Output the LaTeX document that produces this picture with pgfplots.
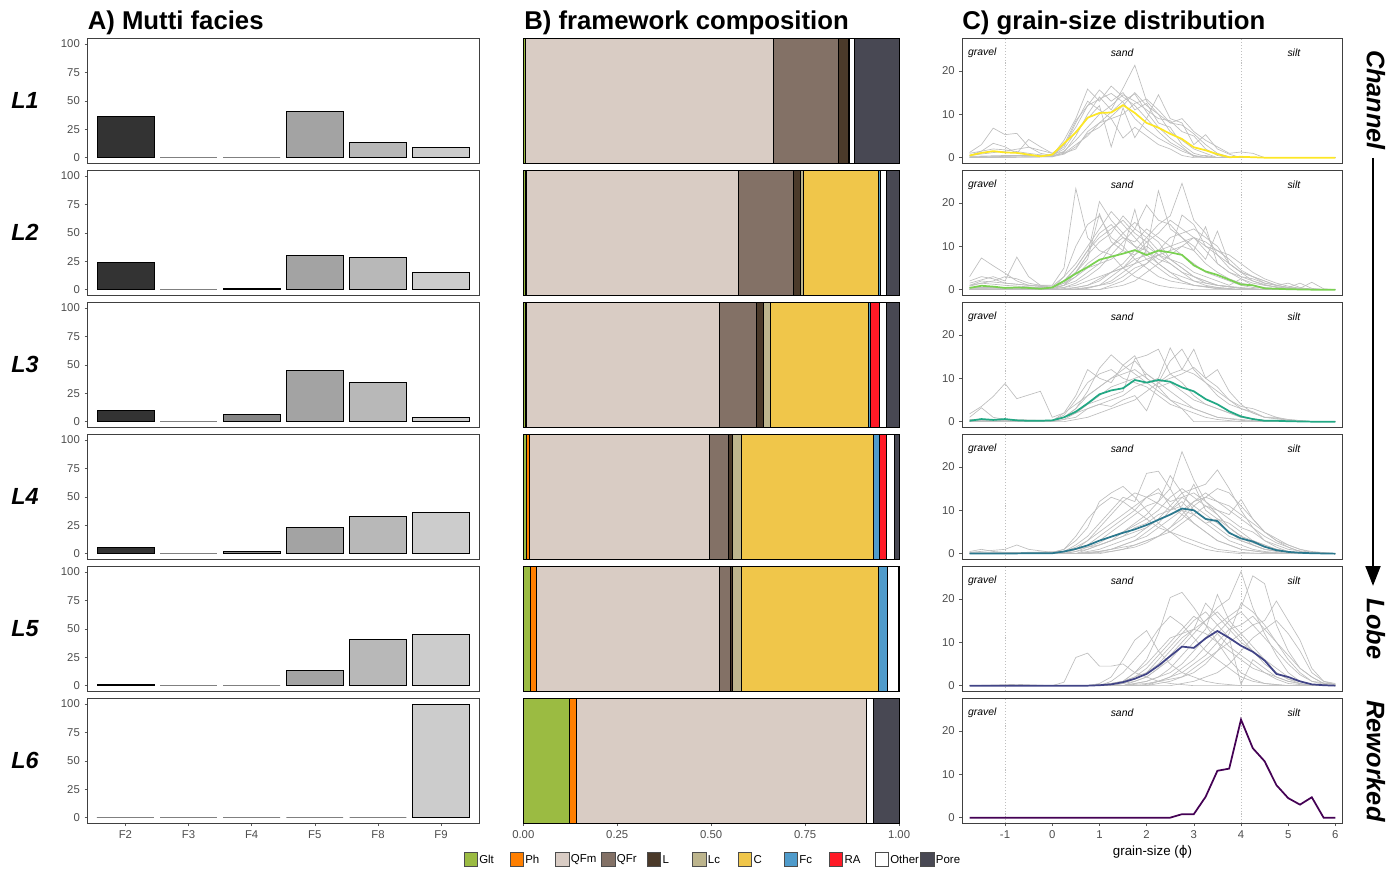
\documentclass[border=0pt]{standalone}
\usepackage{fontspec}
\setmainfont{Liberation Sans}
\newfontfamily\dejavu{DejaVu Sans}
\usepackage{pgfplots}
\pgfplotsset{compat=1.18}
\usetikzlibrary{arrows.meta}

\definecolor{cF2}{HTML}{333333}
\definecolor{cF3}{HTML}{5F5F5F}
\definecolor{cF4}{HTML}{858585}
\definecolor{cF5}{HTML}{A3A3A3}
\definecolor{cF8}{HTML}{B8B8B8}
\definecolor{cF9}{HTML}{CCCCCC}
\definecolor{cGlt}{HTML}{9BBB42}
\definecolor{cPh}{HTML}{FF7F00}
\definecolor{cQFm}{HTML}{D9CCC4}
\definecolor{cQFr}{HTML}{837166}
\definecolor{cL}{HTML}{4B3A2A}
\definecolor{cLc}{HTML}{BDB58D}
\definecolor{cC}{HTML}{F0C64A}
\definecolor{cFc}{HTML}{4F9BCB}
\definecolor{cRA}{HTML}{FF1A26}
\definecolor{cOther}{HTML}{FFFFFF}
\definecolor{cPore}{HTML}{484853}
\definecolor{gc}{HTML}{BEBEBE}
\definecolor{m1}{HTML}{FDE725}
\definecolor{m2}{HTML}{7AD151}
\definecolor{m3}{HTML}{22A884}
\definecolor{m4}{HTML}{2A788E}
\definecolor{m5}{HTML}{414487}
\definecolor{m6}{HTML}{440154}
\definecolor{tl}{HTML}{4D4D4D}

\pgfplotsset{
 base/.style={scale only axis, height=93.75pt, anchor=north west, tick align=outside,
   major tick length=2.2pt, every tick/.style={color=black!65, line width=0.4pt},
   axis line style={color=black!75, line width=0.6pt},
   tick label style={font=\fontsize{8.5}{10}\selectfont, text=tl},
   xtick pos=lower, ytick pos=left, /pgf/number format/assume math mode=true},
 pA/.style={base, width=293.6pt, xmin=0.4, xmax=6.6, ymin=-5, ymax=105,
   ytick={0,25,50,75,100}, yticklabels={0,25,50,75,100}, xtick=\empty},
 pAb/.style={xtick={1,2,3,4,5,6}, xticklabels={F2,F3,F4,F5,F8,F9}},
 pB/.style={base, width=281.8pt, xmin=0, xmax=1, ymin=0.5, ymax=1.5, xbar stacked,
   bar width=1, axis line style={draw=none}, ytick=\empty, xtick=\empty, clip=false},
 pBb/.style={xtick={0,0.25,0.5,0.75,1}, xticklabels={0.00,0.25,0.50,0.75,1.00}},
 pC/.style={base, width=285.3pt, xmin=-1.905, xmax=6.155, ymin=-1.3, ymax=27.5,
   ytick={0,10,20}, yticklabels={0,10,20}, xtick=\empty},
 pCb/.style={xtick={-1,0,1,2,3,4,5,6}, xticklabels={-1,0,1,2,3,4,5,6}},
 gcs/.style={color=gc, line width=0.5pt},
 vl/.style={color=black!25, line width=0.5pt, dash pattern=on 0.8pt off 1.4pt},
}
\newcommand\bA[3]{\addplot[ybar, bar width=0.9, fill=#3, draw=black, line width=0.4pt] coordinates {(#1,#2)};}
\newcommand\bZ[1]{\addplot[ybar, bar width=0.9, fill=white, draw=black!50, line width=1.2pt] coordinates {(#1,0)};}
\newcommand\bB[2]{\addplot[fill=#1, draw=black, line width=0.5pt] coordinates {(#2,1)};}
\newcommand\g[1]{\addplot[gcs] coordinates {#1};}
\newcommand\zones{%
 \addplot[vl] coordinates {(-1,-1.3) (-1,27.5)};
 \addplot[vl] coordinates {(4,-1.3) (4,27.5)};
 \node[font=\itshape\fontsize{7.8}{9}\selectfont] at (axis cs:-1.48,24.2) {gravel};
 \node[font=\itshape\fontsize{7.8}{9}\selectfont] at (axis cs:1.48,24.2) {sand};
 \node[font=\itshape\fontsize{7.8}{9}\selectfont] at (axis cs:5.12,24.2) {silt};}

\begin{document}
\begin{tikzpicture}
% ---------- titles ----------
\node[anchor=base west, font=\bfseries\fontsize{19.3}{22}\selectfont, inner sep=0pt] at (87.5*0.75pt,-29.3*0.75pt) {A) Mutti facies};
\node[anchor=base west, font=\bfseries\fontsize{19.3}{22}\selectfont, inner sep=0pt] at (524*0.75pt,-29.3*0.75pt) {B) framework composition};
\node[anchor=base west, font=\bfseries\fontsize{19.3}{22}\selectfont, inner sep=0pt] at (962*0.75pt,-29.3*0.75pt) {C) grain-size distribution};
% row labels
\foreach \i/\t in {0/L1,1/L2,2/L3,3/L4,4/L5,5/L6}{
  \node[font=\bfseries\itshape\fontsize{17.5}{20}\selectfont] at (25*0.75pt,{-(100.8+132*\i)*0.75pt}) {\t};
}

% ================= Panel A =================
\begin{axis}[pA, at={(87.5*0.75pt,-38.3*0.75pt)}]
\bA{1}{36.2}{cF2} \bZ{2} \bZ{3} \bA{4}{40.9}{cF5} \bA{5}{13.1}{cF8} \bA{6}{9.0}{cF9}
\end{axis}
\begin{axis}[pA, at={(87.5*0.75pt,-170.3*0.75pt)}]
\bA{1}{23.7}{cF2} \bZ{2} \bA{3}{1.0}{cF4} \bA{4}{30.4}{cF5} \bA{5}{28.4}{cF8} \bA{6}{15.5}{cF9}
\end{axis}
\begin{axis}[pA, at={(87.5*0.75pt,-302.3*0.75pt)}]
\bA{1}{10.3}{cF2} \bZ{2} \bA{3}{6.8}{cF4} \bA{4}{45.0}{cF5} \bA{5}{34.5}{cF8} \bA{6}{3.5}{cF9}
\end{axis}
\begin{axis}[pA, at={(87.5*0.75pt,-434.3*0.75pt)}]
\bA{1}{5.9}{cF2} \bZ{2} \bA{3}{1.8}{cF4} \bA{4}{23.2}{cF5} \bA{5}{32.5}{cF8} \bA{6}{36.6}{cF9}
\end{axis}
\begin{axis}[pA, at={(87.5*0.75pt,-566.3*0.75pt)}]
\bA{1}{1.5}{cF2} \bZ{2} \bZ{3} \bA{4}{13.2}{cF5} \bA{5}{40.4}{cF8} \bA{6}{45.2}{cF9}
\end{axis}
\begin{axis}[pA, pAb, at={(87.5*0.75pt,-698.3*0.75pt)}]
\bZ{1} \bZ{2} \bZ{3} \bZ{4} \bZ{5} \bA{6}{100}{cF9}
\end{axis}

% ================= Panel B =================
% order: Glt Ph QFm QFr L Lc C Fc RA Other Pore
\begin{axis}[pB, at={(523.3*0.75pt,-38.3*0.75pt)}]
\bB{cGlt}{0.005}\bB{cPh}{0}\bB{cQFm}{0.660}\bB{cQFr}{0.173}\bB{cL}{0.026}\bB{cLc}{0.003}\bB{cC}{0}\bB{cFc}{0}\bB{cRA}{0}\bB{cOther}{0.013}\bB{cPore}{0.120}
\end{axis}
\begin{axis}[pB, at={(523.3*0.75pt,-170.3*0.75pt)}]
\bB{cGlt}{0.005}\bB{cPh}{0.004}\bB{cQFm}{0.563}\bB{cQFr}{0.146}\bB{cL}{0.018}\bB{cLc}{0.010}\bB{cC}{0.198}\bB{cFc}{0.005}\bB{cRA}{0}\bB{cOther}{0.016}\bB{cPore}{0.035}
\end{axis}
\begin{axis}[pB, at={(523.3*0.75pt,-302.3*0.75pt)}]
\bB{cGlt}{0.006}\bB{cPh}{0.001}\bB{cQFm}{0.514}\bB{cQFr}{0.099}\bB{cL}{0.019}\bB{cLc}{0.018}\bB{cC}{0.261}\bB{cFc}{0.006}\bB{cRA}{0.023}\bB{cOther}{0.018}\bB{cPore}{0.035}
\end{axis}
\begin{axis}[pB, at={(523.3*0.75pt,-434.3*0.75pt)}]
\bB{cGlt}{0.007}\bB{cPh}{0.010}\bB{cQFm}{0.479}\bB{cQFr}{0.050}\bB{cL}{0.010}\bB{cLc}{0.025}\bB{cC}{0.351}\bB{cFc}{0.016}\bB{cRA}{0.019}\bB{cOther}{0.021}\bB{cPore}{0.012}
\end{axis}
\begin{axis}[pB, at={(523.3*0.75pt,-566.3*0.75pt)}]
\bB{cGlt}{0.019}\bB{cPh}{0.016}\bB{cQFm}{0.488}\bB{cQFr}{0.027}\bB{cL}{0.006}\bB{cLc}{0.023}\bB{cC}{0.367}\bB{cFc}{0.023}\bB{cRA}{0}\bB{cOther}{0.028}\bB{cPore}{0.003}
\end{axis}
\begin{axis}[pB, pBb, at={(523.3*0.75pt,-698.3*0.75pt)}]
\bB{cGlt}{0.122}\bB{cPh}{0.018}\bB{cQFm}{0.774}\bB{cQFr}{0}\bB{cL}{0}\bB{cLc}{0}\bB{cC}{0}\bB{cFc}{0}\bB{cRA}{0}\bB{cOther}{0.018}\bB{cPore}{0.068}
\end{axis}

% ================= Panel C =================
\begin{axis}[pC, at={(962.3*0.75pt,-38.3*0.75pt)}]
\zones
\g{(-1.75,1.2)(-1.5,3)(-1.25,6.8)(-1,5.3)(-0.75,5.6)(-0.5,2.5)(-0.25,1)(0,0.5)(0.25,4)(0.5,9)(0.75,15.8)(1,13)(1.25,16.5)(1.5,14)(1.75,12)(2,9)(2.25,6)(2.5,3.5)(2.75,2)(3,0.5)(3.25,0)(6,0)}
\g{(-1.75,0.5)(-1.5,1.5)(-1.25,3.3)(-1,2.5)(-0.75,1)(-0.5,4.2)(-0.25,2.5)(0,1)(0.25,1.2)(0.5,5)(0.75,10)(1,14)(1.25,11)(1.5,16)(1.75,21.3)(2,13)(2.25,10)(2.5,6)(2.75,4)(3,2)(3.25,1)(3.5,0)(6,0)}
\g{(-1.75,0)(-0.5,0.5)(0,0.5)(0.25,2)(0.5,6)(0.75,9)(1,12)(1.25,2.5)(1.5,11.5)(1.75,4.6)(2,9)(2.25,14.5)(2.5,9)(2.75,8)(3,3)(3.25,5.3)(3.5,2)(3.75,0.8)(4,0)(6,0)}
\g{(-1.75,1)(-1.25,2)(-1,1.8)(-0.5,1)(0,0.3)(0.25,3)(0.5,7)(0.75,12)(1,15.6)(1.25,13)(1.5,15)(1.75,11)(2,12.5)(2.25,8)(2.5,7)(2.75,3)(3,1)(3.25,0.3)(3.5,0)(6,0)}
\g{(-1.75,0)(0,0.2)(0.25,1.5)(0.5,4)(0.75,7)(1,10)(1.25,12)(1.5,14.5)(1.75,13)(2,11)(2.25,9)(2.5,8.5)(2.75,6)(3,5)(3.25,2)(3.5,0.5)(3.75,0)(6,0)}
\g{(-1.75,0.3)(-1,0.5)(0,0.5)(0.25,1)(0.5,3)(0.75,5)(1,8)(1.25,10.5)(1.5,13)(1.75,14.7)(2,10.5)(2.25,7)(2.5,4.5)(2.75,2.5)(3,0.2)(3.25,0.5)(3.5,0)(6,0)}
\g{(-1.75,0.2)(0,0.6)(0.25,2.5)(0.5,8)(0.75,13)(1,11)(1.25,9)(1.5,4.5)(1.75,7)(2,5)(2.25,3)(2.5,2)(2.75,0.5)(3,0)(6,0)}
\g{(-1.75,0)(0,0.3)(0.25,1)(0.5,2)(0.75,6)(1,8)(1.25,9)(1.5,10)(1.75,12.5)(2,13.5)(2.25,11)(2.5,8)(2.75,9)(3,6)(3.25,4)(3.5,2.5)(3.75,1)(4,1.3)(4.25,1)(4.5,0)(6,0)}
\g{(-1.75,0)(0,0.2)(0.25,0.8)(0.5,2.5)(0.75,5.5)(1,7)(1.25,9.5)(1.5,12)(1.75,15)(2,12)(2.25,10)(2.5,8)(2.75,7.5)(3,5.5)(3.25,3)(3.5,1)(3.75,0.2)(4,0)(6,0)}
\g{(-1.75,0.5)(-1,1.5)(-0.5,2.4)(0,1)(0.25,3)(0.5,8.5)(0.75,12)(1,13.5)(1.25,14.8)(1.5,12.8)(1.75,9)(2,6.5)(2.25,4.5)(2.5,3)(2.75,1.5)(3,0.5)(3.25,0)(6,0)}
\addplot[m1, line width=1.3pt] coordinates {(-1.75,0.5)(-1.5,1.1)(-1.25,1.5)(-1,1.2)(-0.75,1.1)(-0.5,0.7)(-0.25,0.3)(0,0.7)(0.25,3.3)(0.5,5.8)(0.75,9.2)(1,10.3)(1.25,10.4)(1.5,12.1)(1.75,10.3)(2,8.0)(2.25,6.9)(2.5,5.5)(2.75,4.3)(3,2.4)(3.25,1.7)(3.5,0.8)(3.75,0.1)(4,0.2)(4.25,0.1)(4.5,0)(6,0)};
\end{axis}

\begin{axis}[pC, at={(962.3*0.75pt,-170.3*0.75pt)}]
\zones
\g{(-1.75,3)(-1.5,7.3)(-1.25,5.5)(-1,3.8)(-0.75,2)(-0.5,1)(0,1)(0.25,5)(0.5,23.3)(0.75,12)(1,9)(1.25,8)(1.5,5)(1.75,3)(2,2)(2.25,1)(2.5,0.5)(3,0)(6,0)}
\g{(-1.75,1.5)(-1.25,3)(-1,2)(-0.75,7.5)(-0.5,3)(-0.25,1)(0,0.8)(0.25,3)(0.5,6)(0.75,10)(1,14)(1.25,18)(1.5,15)(1.75,12)(2,9)(2.25,6)(2.5,4)(2.75,2)(3,1)(3.5,0.3)(4,0)(6,0)}
\g{(-1.75,0.5)(0,0.2)(0.25,1)(0.5,4)(0.75,8)(1,20.3)(1.25,16)(1.5,13)(1.75,10)(2,7)(2.25,5)(2.5,3)(2.75,2)(3,1)(3.5,0.2)(4,0)(6,0)}
\g{(-1.75,0.5)(0,0.3)(0.25,0.5)(0.5,1.5)(0.75,3)(1,5)(1.25,8)(1.5,11)(1.75,14)(2,19.5)(2.25,16)(2.5,15)(2.75,12)(3,9)(3.25,6)(3.5,4)(3.75,2.5)(4,1.5)(4.25,1)(4.5,0.5)(5,0)(6,0)}
\g{(-1.75,0)(0,0)(0.5,0.5)(0.75,1)(1,2)(1.25,4)(1.5,6)(1.75,9)(2,12)(2.25,15)(2.5,17)(2.75,24.5)(3,16)(3.25,13)(3.5,8)(3.75,5)(4,3)(4.25,2)(4.5,1)(5,0.3)(5.5,0)(6,0)}
\g{(-1.75,0)(0,0)(0.5,0.2)(0.75,0.5)(1,1)(1.25,2)(1.5,4)(1.75,6)(2,9)(2.25,22.8)(2.5,14)(2.75,12)(3,10)(3.25,7)(3.5,13.5)(3.75,6)(4,4)(4.25,2)(4.5,1.2)(4.75,0.5)(5,0.2)(5.5,0)(6,0)}
\g{(-1.75,1)(-1.5,2)(-1,1.5)(-0.5,1)(0,0.5)(0.25,2)(0.5,5)(0.75,9)(1,12)(1.25,14)(1.5,16)(1.75,13)(2,11)(2.25,8)(2.5,6)(2.75,4)(3,3)(3.25,2)(3.5,1)(4,0.3)(4.5,0)(6,0)}
\g{(-1.75,0.3)(0,0.5)(0.25,1.5)(0.5,3)(0.75,6)(1,8)(1.25,10)(1.5,12)(1.75,11)(2,14)(2.25,12)(2.5,10)(2.75,8)(3,6)(3.25,4)(3.5,3)(3.75,2)(4,1)(4.25,0.5)(5,0)(6,0)}
\g{(-1.75,0)(0.25,0)(0.5,0.5)(0.75,1)(1,2.5)(1.25,4)(1.5,5)(1.75,7)(2,8)(2.25,9)(2.5,10)(2.75,11)(3,12)(3.25,10)(3.5,8)(3.75,6)(4,4)(4.25,3)(4.5,2)(4.75,1)(5,0.5)(5.25,1.5)(5.5,0.3)(5.75,0)(6,0)}
\g{(-1.75,0.8)(-1.5,1.5)(-1,1)(0,0.3)(0.25,2)(0.5,4)(0.75,7)(1,17.5)(1.25,11)(1.5,9)(1.75,18.5)(2,8)(2.25,6)(2.5,4)(2.75,3)(3,2)(3.25,1)(3.5,0.5)(4,0)(6,0)}
\g{(-1.75,0)(0.5,0)(0.75,0.3)(1,1)(1.25,1.5)(1.5,3)(1.75,5)(2,6)(2.25,8)(2.5,9)(2.75,17.2)(3,15)(3.25,10)(3.5,9)(3.75,8)(4,6)(4.25,4)(4.5,2.5)(4.75,1.5)(5,0.8)(5.25,0.3)(5.5,1.7)(5.75,0.2)(6,0)}
\g{(-1.75,0.5)(0,0.2)(0.25,1)(0.5,3)(0.75,5)(1,6)(1.25,7)(1.5,9)(1.75,8)(2,10)(2.25,8)(2.5,7)(2.75,6)(3,4)(3.25,3)(3.5,2)(3.75,1)(4,2.5)(4.25,1)(4.5,0.3)(5,0)(6,0)}
\g{(-1.75,1)(-1.25,2)(-1,3)(-0.75,2.5)(-0.5,1.5)(0,0.5)(0.25,1)(0.5,2)(0.75,4)(1,6)(1.25,10)(1.5,13)(1.75,15.5)(2,13)(2.25,11)(2.5,7)(2.75,5)(3,3)(3.25,1.5)(3.5,1)(4,0.3)(4.5,0)(6,0)}
\g{(-1.75,0)(0,0.1)(0.25,0.5)(0.5,1)(0.75,2)(1,3)(1.25,4)(1.5,5)(1.75,6)(2,7)(2.25,8)(2.5,9)(2.75,10)(3,9)(3.25,14.5)(3.5,6)(3.75,4)(4,3)(4.25,2.5)(4.5,1.5)(4.75,1)(5,0.5)(5.5,0.2)(6,0)}
\g{(-1.75,0.3)(0,0.3)(0.25,3)(0.5,10)(0.75,15)(1,17)(1.25,12)(1.5,10)(1.75,7)(2,5)(2.25,3)(2.5,2)(2.75,1.5)(3,1)(3.5,0.5)(4,0)(6,0)}
\g{(-1.75,0)(1,0)(1.25,0.5)(1.5,1)(1.75,2)(2,4)(2.25,6)(2.5,8)(2.75,10)(3,12)(3.25,11)(3.5,9)(3.75,7)(4,4.5)(4.25,3)(4.5,2)(4.75,1)(5,0.5)(5.5,0)(6,0)}
\g{(-1.75,2)(-1.5,3)(-1.25,2.5)(-1,1.5)(-0.5,1)(0,0.5)(0.25,1.5)(0.5,4)(0.75,8)(1,11)(1.25,13)(1.5,17)(1.75,14)(2,12)(2.25,9)(2.5,7)(2.75,5)(3,3)(3.25,2)(3.5,1)(4,0.3)(4.5,0)(6,0)}
\g{(-1.75,0)(0.5,0)(0.75,0.5)(1,1)(1.25,3)(1.5,5)(1.75,8)(2,11)(2.25,13)(2.5,16)(2.75,14)(3,12)(3.25,9)(3.5,6)(3.75,4)(4,2.5)(4.25,1.5)(4.5,1)(5,0.3)(5.5,0)(6,0)}
\g{(-1.75,0.5)(0,0.5)(0.25,2)(0.5,5)(0.75,9)(1,13)(1.25,15)(1.5,12)(1.75,10)(2,9)(2.25,7)(2.5,6)(2.75,4)(3,2)(3.5,1)(4,0.5)(4.5,0)(6,0)}
\g{(-1.75,0)(1,0)(1.25,1)(1.5,2)(1.75,4)(2,6)(2.25,9)(2.5,12)(2.75,13)(3,14)(3.25,12)(3.5,10)(3.75,6)(4,4)(4.25,3)(4.5,1.5)(4.75,1)(5,1.5)(5.25,0.5)(5.5,0)(6,0)}
\addplot[m2, line width=1.3pt] coordinates {(-1.75,0.4)(-1.5,0.9)(-1.25,0.7)(-1,0.4)(-0.75,0.5)(-0.5,0.4)(-0.25,0.2)(0,0.5)(0.25,2.0)(0.5,3.7)(0.75,5.2)(1,6.9)(1.25,7.6)(1.5,8.3)(1.75,9.1)(2,8.0)(2.25,9.0)(2.5,8.6)(2.75,8.0)(3,5.6)(3.25,4.2)(3.5,3.4)(3.75,2.3)(4,1.2)(4.25,1.0)(4.5,0.3)(4.75,0.2)(5,0.1)(5.5,0)(6,0)};
\end{axis}

\begin{axis}[pC, at={(962.3*0.75pt,-302.3*0.75pt)}]
\zones
\g{(-1.75,1.8)(-1.5,3.5)(-1.25,5.8)(-1,8.8)(-0.75,5.3)(-0.25,7)(0,1)(0.25,2)(0.5,4)(0.75,6)(1,8)(1.25,10)(1.5,12)(1.75,14)(2,11)(2.25,9)(2.5,7)(2.75,5)(3,3)(3.25,2)(3.5,1)(4,0.3)(4.5,0)(6,0)}
\g{(-1.75,1)(-1.5,3.2)(-1.25,1)(-1,0.5)(0,0.2)(0.25,1)(0.5,3)(0.75,7)(1,12.3)(1.25,15.4)(1.5,13)(1.75,15.2)(2,10)(2.25,8)(2.5,5)(2.75,3)(3,2)(3.25,1)(3.5,0.5)(4,0)(6,0)}
\g{(-1.75,0)(0,0.2)(0.25,1)(0.5,2)(0.75,4)(1,5)(1.25,6)(1.5,7)(1.75,14.5)(2,15.3)(2.25,16.7)(2.5,11)(2.75,9)(3,6)(3.25,4)(3.5,3)(3.75,2)(4,1)(4.5,0.3)(5,0)(6,0)}
\g{(-1.75,0)(0,0.1)(0.25,0.5)(0.5,1)(0.75,3)(1,4)(1.25,5)(1.5,6)(1.75,8)(2,9)(2.25,10)(2.5,17)(2.75,12)(3,16.7)(3.25,10)(3.5,8)(3.75,5)(4,3)(4.25,2)(4.5,1)(5,0.3)(5.5,0)(6,0)}
\g{(-1.75,0.3)(0,0.3)(0.25,1.5)(0.5,5)(0.75,9)(1,11)(1.25,12)(1.5,10)(1.75,9)(2,8)(2.25,6)(2.5,4)(2.75,3)(3,0)(6,0)}
\g{(-1.75,0)(0,0)(0.25,0.5)(0.5,2)(0.75,4)(1,6)(1.25,8)(1.5,9)(1.75,10)(2,11)(2.25,9)(2.5,10)(2.75,11)(3,12.5)(3.25,10)(3.5,12)(3.75,7)(4,4)(4.25,2)(4.5,1)(5,0.5)(5.5,0)(6,0)}
\g{(-1.75,0)(0,0.2)(0.25,1)(0.5,2)(0.75,3)(1,4)(1.25,3.5)(1.5,5)(1.75,6)(2,2.5)(2.25,9)(2.5,14)(2.75,16.7)(3,12)(3.25,9)(3.5,6)(3.75,4)(4,3)(4.25,2.3)(4.5,1)(4.75,1)(5,0.2)(5.5,0)(6,0)}
\g{(-1.75,0.5)(0,0.3)(0.25,1)(0.5,3)(0.75,6)(1,8)(1.25,10)(1.5,11)(1.75,12)(2,10)(2.25,8)(2.5,9)(2.75,7)(3,5)(3.25,4)(3.5,3)(3.75,2)(4,1)(4.5,0.3)(5,0)(6,0)}
\g{(-1.75,0)(0.25,0)(0.5,0.5)(0.75,1)(1,2)(1.25,3)(1.5,4)(1.75,5)(2,7)(2.25,9)(2.5,11)(2.75,12)(3,11)(3.25,9)(3.5,7)(3.75,5)(4,3.5)(4.25,3)(4.5,2)(4.75,1)(5,0.5)(5.5,0)(6,0)}
\g{(-1.75,0.2)(0,0.2)(0.25,2)(0.5,6)(0.75,12)(1,10)(1.25,9)(1.5,13)(1.75,11)(2,9)(2.25,7)(2.5,5)(2.75,4)(3,3)(3.25,2)(3.5,1)(4,0.5)(4.5,0)(6,0)}
\addplot[m3, line width=1.3pt] coordinates {(-1.75,0.2)(-1.5,0.6)(-1.25,0.4)(-1,0.6)(-0.75,0.3)(-0.5,0.2)(-0.25,0.2)(0,0.3)(0.25,1.0)(0.5,2.3)(0.75,4.2)(1,6.3)(1.25,7.2)(1.5,7.7)(1.75,9.6)(2,9.0)(2.25,9.6)(2.5,9.2)(2.75,7.9)(3,7.0)(3.25,5.2)(3.5,4.0)(3.75,2.4)(4,1.2)(4.25,0.6)(4.5,0.2)(4.75,0.2)(5,0.1)(5.5,0)(6,0)};
\end{axis}

\begin{axis}[pC, at={(962.3*0.75pt,-434.3*0.75pt)}]
\zones
\g{(-1.75,0.5)(-1.5,1)(-1.25,0.5)(-1,0.3)(0,0.2)(0.25,1)(0.5,3)(0.75,6)(1,12)(1.25,14)(1.5,15.5)(1.75,13)(2,10)(2.25,7)(2.5,5)(2.75,3)(3,2)(3.25,1)(3.5,0.5)(4,0)(6,0)}
\g{(-1.75,0.3)(-1,1)(-0.75,2)(-0.5,1)(0,0.3)(0.25,0.5)(0.5,2)(0.75,4)(1,7)(1.25,10)(1.5,13)(1.75,12)(2,18.5)(2.25,19)(2.5,15)(2.75,10)(3,7)(3.25,5)(3.5,3)(3.75,2)(4,1)(4.5,0.3)(5,0)(6,0)}
\g{(-1.75,0)(0.25,0)(0.5,0.5)(0.75,1)(1,2)(1.25,3)(1.5,5)(1.75,7)(2,9)(2.25,12)(2.5,15)(2.75,23.5)(3,17)(3.25,12)(3.5,9)(3.75,6)(4,4)(4.25,2)(4.5,1)(5,0.3)(5.5,0)(6,0)}
\g{(-1.75,0)(0.5,0)(0.75,0.5)(1,1)(1.25,2)(1.5,3)(1.75,4)(2,6)(2.25,8)(2.5,11)(2.75,14)(3,15)(3.25,16)(3.5,19.3)(3.75,15)(4,10)(4.25,6)(4.5,3)(4.75,1.5)(5,0.5)(5.5,0)(6,0)}
\g{(-1.75,0)(0.25,0.3)(0.5,1)(0.75,2)(1,4)(1.25,6)(1.5,8)(1.75,10)(2,13)(2.25,14)(2.5,12)(2.75,13)(3,11)(3.25,9)(3.5,7)(3.75,5)(4,3)(4.25,2)(4.5,1)(5,0.3)(5.5,0)(6,0)}
\g{(-1.75,0)(0.75,0)(1,0.5)(1.25,1)(1.5,2)(1.75,3)(2,5)(2.25,7)(2.5,10)(2.75,13)(3,14)(3.25,12)(3.5,10)(3.75,9)(4,12.5)(4.25,8)(4.5,5)(4.75,3)(5,1.5)(5.25,0.5)(5.5,0)(6,0)}
\g{(-1.75,0.2)(0,0.2)(0.25,0.5)(0.5,1)(0.75,2)(1,3)(1.25,5)(1.5,7)(1.75,9)(2,11)(2.25,12)(2.5,18)(2.75,14)(3,10)(3.25,8)(3.5,6)(3.75,4)(4,3)(4.25,2)(4.5,1)(5,0)(6,0)}
\g{(-1.75,0)(0.5,0)(0.75,0.3)(1,0.5)(1.25,1)(1.5,1.5)(1.75,2)(2,3)(2.25,4)(2.5,6)(2.75,8)(3,11)(3.25,13)(3.5,15)(3.75,14)(4,11)(4.25,8)(4.5,5)(4.75,3)(5,2)(5.25,1)(5.5,0.3)(6,0)}
\g{(-1.75,0)(0,0.3)(0.25,1)(0.5,4)(0.75,8)(1,11)(1.25,13)(1.5,12)(1.75,10)(2,8)(2.25,6)(2.5,5)(2.75,4)(3,3)(3.25,2)(3.5,1)(4,0.3)(4.5,0)(6,0)}
\g{(-1.75,0)(0.5,0)(1,0.5)(1.25,1)(1.5,2)(1.75,3)(2,4)(2.25,6)(2.5,8)(2.75,10)(3,12)(3.25,13)(3.5,12)(3.75,10)(4,8)(4.25,6)(4.5,4)(4.75,2.5)(5,1.5)(5.25,0.5)(5.5,0)(6,0)}
\g{(-1.75,0)(0.25,0.5)(0.5,1.5)(0.75,3)(1,5)(1.25,7)(1.5,9)(1.75,11)(2,13)(2.25,11.5)(2.5,10)(2.75,12)(3,9)(3.25,7)(3.5,5)(3.75,3)(4,2)(4.25,1)(4.5,0.5)(5,0)(6,0)}
\g{(-1.75,0)(0.75,0)(1,0.3)(1.25,0.5)(1.5,1)(1.75,2)(2,3)(2.25,4)(2.5,5)(2.75,7)(3,9)(3.25,11)(3.5,10)(3.75,8)(4,6)(4.25,5)(4.5,3)(4.75,2)(5,1)(5.5,0.3)(6,0)}
\g{(-1.75,0)(0.5,0)(0.75,1)(1,2)(1.25,3)(1.5,4)(1.75,6)(2,7)(2.25,9)(2.5,10)(2.75,11)(3,16)(3.25,10)(3.5,8)(3.75,7)(4,5)(4.25,3)(4.5,2)(4.75,1)(5,0.5)(5.5,0)(6,0)}
\g{(-1.75,0)(0,0)(0.25,0.3)(0.5,1)(0.75,1.5)(1,2)(1.25,3)(1.5,4)(1.75,5)(2,6)(2.25,8)(2.5,9)(2.75,10)(3,9)(3.25,7)(3.5,8)(3.75,6)(4,4)(4.25,3)(4.5,2)(4.75,1)(5,0.3)(6,0)}
\g{(-1.75,0)(0.25,0)(0.5,1)(0.75,3)(1,6)(1.25,9)(1.5,12)(1.75,14)(2,13)(2.25,15)(2.5,11)(2.75,9)(3,7)(3.25,5)(3.5,3)(3.75,2)(4,1)(4.5,0.3)(5,0)(6,0)}
\g{(-1.75,0)(1,0)(1.25,0.5)(1.5,1)(1.75,1.5)(2,2.5)(2.25,4)(2.5,6)(2.75,9)(3,12)(3.25,14)(3.5,12)(3.75,11)(4,9)(4.25,7)(4.5,5)(4.75,3.5)(5,2)(5.25,1)(5.5,0.5)(6,0)}
\g{(-1.75,0)(0.25,0)(0.5,0.5)(0.75,1.5)(1,2.5)(1.25,4)(1.5,5)(1.75,6.5)(2,8)(2.25,10)(2.5,13)(2.75,15)(3,13)(3.25,11)(3.5,9)(3.75,6)(4,4)(4.25,2.5)(4.5,1.5)(5,0.5)(5.5,0)(6,0)}
\addplot[m4, line width=1.3pt] coordinates {(-1.75,0.05)(-1,0.05)(0,0.1)(0.25,0.5)(0.5,1.1)(0.75,1.9)(1,3.0)(1.25,3.9)(1.5,4.8)(1.75,5.6)(2,6.6)(2.25,7.8)(2.5,9.0)(2.75,10.4)(3,10.0)(3.25,8.0)(3.5,7.5)(3.75,4.8)(4,3.5)(4.25,2.8)(4.5,1.6)(4.75,0.8)(5,0.4)(5.25,0.2)(5.5,0.1)(6,0)};
\end{axis}

\begin{axis}[pC, at={(962.3*0.75pt,-566.3*0.75pt)}]
\zones
\g{(-1.75,0)(0,0)(0.25,0.8)(0.5,6.5)(0.75,7.5)(1,4.5)(1.25,4.5)(1.5,5)(1.75,3)(2,2)(2.25,1)(2.5,0.5)(3,0)(6,0)}
\g{(-1.75,0)(0.75,0)(1,0.5)(1.25,2)(1.5,6)(1.75,10.5)(2,12.7)(2.25,8)(2.5,5)(2.75,3)(3,2)(3.25,1)(3.5,0.5)(4,0)(6,0)}
\g{(-1.75,0)(1,0)(1.25,0.5)(1.5,1)(1.75,3)(2,6)(2.25,12)(2.5,20.3)(2.75,21.5)(3,18)(3.25,14)(3.5,10)(3.75,6)(4,3)(4.25,1.5)(4.5,0.5)(5,0)(6,0)}
\g{(-1.75,0)(1.25,0)(1.5,0.5)(1.75,1)(2,2)(2.25,4)(2.5,6)(2.75,9)(3,12)(3.25,15)(3.5,18)(3.75,20)(4,26.3)(4.25,18)(4.5,12)(4.75,7)(5,3)(5.25,1)(5.5,0.3)(6,0)}
\g{(-1.75,0)(1.5,0)(1.75,0.5)(2,1)(2.25,2)(2.5,3)(2.75,5)(3,8)(3.25,11)(3.5,14)(3.75,16)(4,18)(4.25,25.3)(4.5,23.5)(4.75,14)(5,8)(5.25,4)(5.5,2)(5.75,0.5)(6,0.3)}
\g{(-1.75,0)(1.5,0)(1.75,0.3)(2,0.5)(2.25,1)(2.5,1.5)(2.75,2)(3,4)(3.25,6)(3.5,8)(3.75,10)(4,12)(4.25,14)(4.5,15)(4.75,19.5)(5,15)(5.25,10.5)(5.5,4)(5.75,1)(6,0.2)}
\g{(-1.75,0)(1,0)(1.25,1)(1.5,3)(1.75,6)(2,9)(2.25,13)(2.5,16)(2.75,14)(3,11)(3.25,8)(3.5,6)(3.75,4)(4,2)(4.25,1)(4.5,0.5)(5,0)(6,0)}
\g{(-1.75,0)(1.5,0)(1.75,0.5)(2,1)(2.25,2)(2.5,4)(2.75,7)(3,10)(3.25,13)(3.5,21)(3.75,15)(4,12)(4.25,9)(4.5,6)(4.75,3)(5,1.5)(5.25,0.5)(5.5,0)(6,0)}
\g{(-1.75,0)(2,0)(2.25,0.5)(2.5,1)(2.75,2)(3,3)(3.25,5)(3.5,8)(3.75,12)(4,19)(4.25,17)(4.5,14)(4.75,10)(5,6)(5.25,3)(5.5,1)(5.75,0.3)(6,0)}
\g{(-1.75,0)(0.75,0)(1,0.3)(1.25,0.5)(1.5,1)(1.75,2)(2,4)(2.25,7)(2.5,10)(2.75,13)(3,16)(3.25,14)(3.5,12)(3.75,9)(4,7)(4.25,5)(4.5,3)(4.75,2)(5,1)(5.5,0)(6,0)}
\g{(-1.75,0)(1.75,0)(2,0.3)(2.25,1)(2.5,2)(2.75,3)(3,5)(3.25,7)(3.5,10)(3.75,13)(4,14)(4.25,16)(4.5,13)(4.75,10)(5,7)(5.25,4)(5.5,2)(5.75,0.5)(6,0.3)}
\g{(-1.75,0)(1,0)(1.25,0.5)(1.5,1)(1.75,2)(2,3)(2.25,5)(2.5,8)(2.75,11)(3,13)(3.25,19)(3.5,16)(3.75,13)(4,10)(4.25,8)(4.5,6)(4.75,4)(5,2)(5.25,1)(5.5,0.3)(6,0)}
\g{(-1.75,0)(2.5,0)(2.75,0.5)(3,1)(3.25,2)(3.5,3)(3.75,5)(4,8)(4.25,11)(4.5,13)(4.75,15)(5,12)(5.25,8)(5.5,3)(5.75,1)(6,0.5)}
\g{(-1.75,0)(-0.75,0.3)(0,0)(1.25,0)(1.5,0.5)(1.75,1.5)(2,3)(2.25,6)(2.5,9)(2.75,12)(3,15)(3.25,17)(3.5,14)(3.75,11)(4,0.3)(4.25,6)(4.5,4)(4.75,2)(5,1)(5.5,0)(6,0)}
\g{(-1.75,0)(1.5,0)(1.75,1)(2,2)(2.25,4)(2.5,7)(2.75,10)(3,13)(3.25,15)(3.5,17)(3.75,14)(4,11)(4.25,8)(4.5,5)(4.75,3)(5,1.5)(5.5,0.3)(6,0)}
\g{(-1.75,0)(2,0)(2.25,1)(2.5,2)(2.75,4)(3,6)(3.25,9)(3.5,12)(3.75,15)(4,17)(4.25,14)(4.5,11)(4.75,8)(5,5)(5.25,2.5)(5.5,1)(6,0.3)}
\g{(-1.75,0)(1.25,0)(1.5,1)(1.75,3)(2,5)(2.25,8)(2.5,11)(2.75,12)(3,13)(3.25,12)(3.5,10)(3.75,8)(4,6)(4.25,4)(4.5,3)(4.75,1.5)(5,0.5)(5.5,0)(6,0)}
\addplot[m5, line width=1.3pt] coordinates {(-1.75,0)(0.75,0)(1,0.1)(1.25,0.3)(1.5,0.8)(1.75,1.6)(2,2.7)(2.25,4.6)(2.5,6.8)(2.75,9.0)(3,8.7)(3.25,10.9)(3.5,12.6)(3.75,11.0)(4,9.2)(4.25,7.8)(4.5,5.8)(4.75,2.7)(5,2.0)(5.25,1.0)(5.5,0.3)(5.75,0.1)(6,0)};
\end{axis}

\begin{axis}[pC, pCb, at={(962.3*0.75pt,-698.3*0.75pt)},
  xlabel={grain-size ({\dejavu ϕ})}, xlabel style={font=\fontsize{10}{12}\selectfont, yshift=2pt}]
\zones
\addplot[m6, line width=1.3pt] coordinates {(-1.75,0)(2.5,0)(2.75,0.8)(3,0.8)(3.25,4.8)(3.5,10.8)(3.75,11.3)(4,22.6)(4.25,16.0)(4.5,13.0)(4.75,7.5)(5,4.5)(5.25,3.0)(5.5,4.7)(5.75,0)(6,0)};
\end{axis}

% ---------- right side labels ----------
\node[rotate=-90, font=\bfseries\itshape\fontsize{19}{22}\selectfont] at (1376*0.75pt,-100*0.75pt) {Channel};
\node[rotate=-90, font=\bfseries\itshape\fontsize{19}{22}\selectfont] at (1376*0.75pt,-629*0.75pt) {Lobe};
\node[rotate=-90, font=\bfseries\itshape\fontsize{19}{22}\selectfont] at (1376*0.75pt,-761*0.75pt) {Reworked};
\draw[line width=2.2pt, -{Triangle[length=15pt, width=11pt]}] (1373*0.75pt,-158*0.75pt) -- (1373*0.75pt,-586*0.75pt);

% ---------- legend ----------
\foreach \x/\c/\t in {464/cGlt/Glt, 510/cPh/Ph, 555.7/cQFm/QFm, 601.7/cQFr/QFr, 647.3/cL/L, 692.7/cLc/Lc, 738.3/cC/C, 784/cFc/Fc, 829.3/cRA/RA, 875/cOther/Other, 920.7/cPore/Pore}{
  \filldraw[fill=\c, draw=black!70, line width=0.5pt] (\x*0.75pt,-852.7*0.75pt) rectangle ({(\x+13.3)*0.75pt},-866*0.75pt);
  \node[anchor=west, inner sep=0pt, font=\fontsize{8.6}{10}\selectfont] at ({(\x+15)*0.75pt},-859.5*0.75pt) {\t};
}

\pgfresetboundingbox
\path (0,0) rectangle (1397*0.75pt,-870*0.75pt);
\end{tikzpicture}
\end{document}
